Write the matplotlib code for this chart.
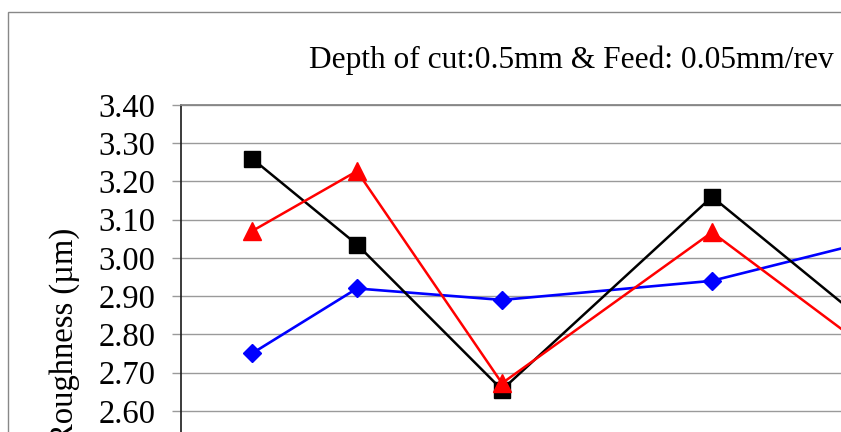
import matplotlib.pyplot as plt
import matplotlib.patches as patches
import numpy as np

plt.rcParams['font.family'] = ['Liberation Serif', 'DejaVu Serif']

# Spindle speed (rpm) and surface roughness Ra (µm) for three runs
spindle_speed = [250, 355, 500, 710, 1000]
roughness_blue = [2.75, 2.92, 2.89, 2.94, 3.13]
roughness_black = [3.26, 3.035, 2.655, 3.16, 2.54]
roughness_red = [3.07, 3.227, 2.672, 3.067, 2.50]
yticks = np.arange(2.50, 3.401, 0.10)

W, H = 841, 432
fig = plt.figure(figsize=(W / 100, H / 100), dpi=100)

# plot area runs off the right and bottom edges of the canvas
left, top = 181, 105
ax_w, ax_h = 900, 344
ax = fig.add_axes([left / W, (H - top - ax_h) / H, ax_w / W, ax_h / H])

ax.plot(spindle_speed, roughness_blue, color='#0000FF', lw=1.9,
        marker='D', markersize=9.5, zorder=3)
ax.plot(spindle_speed, roughness_black, color='#000000', lw=1.8,
        marker='s', markersize=12, zorder=4)
ax.plot(spindle_speed, roughness_red, color='#FF0000', lw=1.8,
        marker='^', markersize=12.5, zorder=5)

ax.set_xlim(179, 179 + ax_w)
ax.set_ylim(2.50, 3.40)
ax.set_yticks(yticks)
ax.set_yticklabels([f'{v:.2f}' for v in yticks], fontsize=23.5)
ax.set_xticks([])
ax.yaxis.grid(True, color='#9a9a9a', lw=1)
ax.set_axisbelow(True)
ax.tick_params(axis='y', length=6.5, width=1, color='#9a9a9a', pad=12)

ax.spines['top'].set_color('#868686')
ax.spines['top'].set_linewidth(1.3)
ax.spines['left'].set_color('#1a1a1a')
ax.spines['left'].set_linewidth(1.2)
ax.spines['right'].set_visible(False)
ax.spines['bottom'].set_visible(False)

fig.text(309 / W, 1 - 68 / H, 'Depth of cut:0.5mm & Feed: 0.05mm/rev',
         fontsize=22.6, ha='left', va='baseline')
fig.text(65 / W, 1 - 228 / H, 'Roughness (µm)', fontsize=23.5,
         rotation=90, ha='center', va='top')

# chart area border
fig.patches.append(patches.Rectangle(
    (8 / W, -0.2), 1.2, 1.2 - 12 / H, transform=fig.transFigure,
    fill=False, edgecolor='#888888', lw=1))

fig.savefig('out.png', dpi=100)
